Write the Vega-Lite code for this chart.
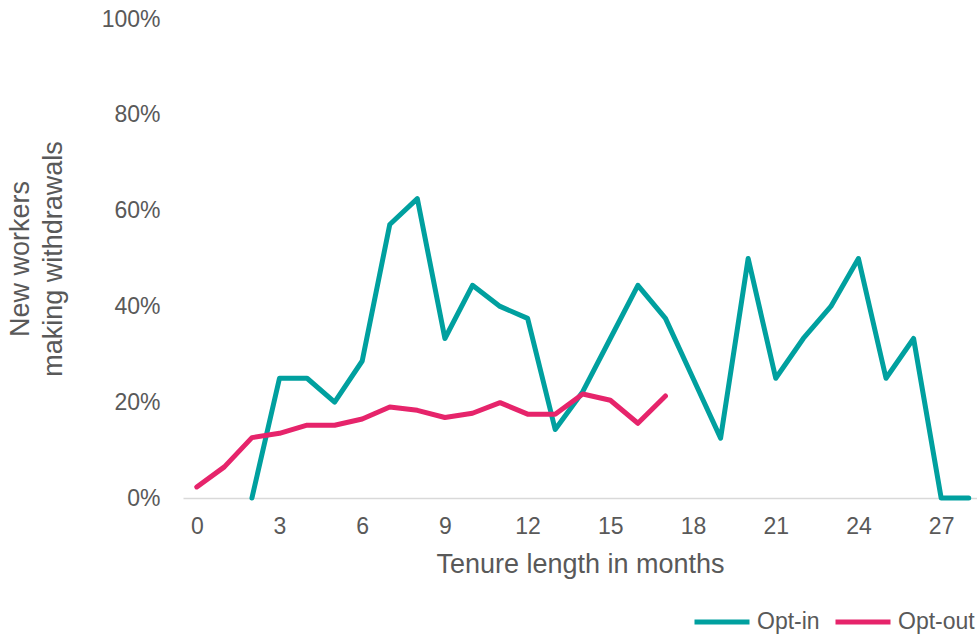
{
  "$schema": "https://vega.github.io/schema/vega-lite/v6.json",
  "width": 794,
  "height": 479,
  "autosize": {"type": "none"},
  "padding": {"left": 183, "top": 19, "right": 0, "bottom": 138},
  "background": "white",
  "config": {
    "view": {"stroke": null},
    "font": "Liberation Sans",
    "axis": {"labelColor": "#595959", "titleColor": "#595959", "labelFont": "Liberation Sans", "titleFont": "Liberation Sans", "titleFontWeight": "normal"},
    "legend": {"labelColor": "#595959", "labelFont": "Liberation Sans"}
  },
  "data": {
    "values": [
      {"month": 2, "scheme": "Opt-in", "pct": 0},
      {"month": 3, "scheme": "Opt-in", "pct": 25},
      {"month": 4, "scheme": "Opt-in", "pct": 25},
      {"month": 5, "scheme": "Opt-in", "pct": 20},
      {"month": 6, "scheme": "Opt-in", "pct": 28.6},
      {"month": 7, "scheme": "Opt-in", "pct": 57.1},
      {"month": 8, "scheme": "Opt-in", "pct": 62.5},
      {"month": 9, "scheme": "Opt-in", "pct": 33.3},
      {"month": 10, "scheme": "Opt-in", "pct": 44.4},
      {"month": 11, "scheme": "Opt-in", "pct": 40},
      {"month": 12, "scheme": "Opt-in", "pct": 37.5},
      {"month": 13, "scheme": "Opt-in", "pct": 14.3},
      {"month": 14, "scheme": "Opt-in", "pct": 22.2},
      {"month": 15, "scheme": "Opt-in", "pct": 33.3},
      {"month": 16, "scheme": "Opt-in", "pct": 44.4},
      {"month": 17, "scheme": "Opt-in", "pct": 37.5},
      {"month": 18, "scheme": "Opt-in", "pct": 25},
      {"month": 19, "scheme": "Opt-in", "pct": 12.5},
      {"month": 20, "scheme": "Opt-in", "pct": 50},
      {"month": 21, "scheme": "Opt-in", "pct": 25},
      {"month": 22, "scheme": "Opt-in", "pct": 33.3},
      {"month": 23, "scheme": "Opt-in", "pct": 40},
      {"month": 24, "scheme": "Opt-in", "pct": 50},
      {"month": 25, "scheme": "Opt-in", "pct": 25},
      {"month": 26, "scheme": "Opt-in", "pct": 33.3},
      {"month": 27, "scheme": "Opt-in", "pct": 0},
      {"month": 28, "scheme": "Opt-in", "pct": 0},
      {"month": 0, "scheme": "Opt-out", "pct": 2.3},
      {"month": 1, "scheme": "Opt-out", "pct": 6.5},
      {"month": 2, "scheme": "Opt-out", "pct": 12.6},
      {"month": 3, "scheme": "Opt-out", "pct": 13.5},
      {"month": 4, "scheme": "Opt-out", "pct": 15.2},
      {"month": 5, "scheme": "Opt-out", "pct": 15.2},
      {"month": 6, "scheme": "Opt-out", "pct": 16.5},
      {"month": 7, "scheme": "Opt-out", "pct": 19},
      {"month": 8, "scheme": "Opt-out", "pct": 18.3},
      {"month": 9, "scheme": "Opt-out", "pct": 16.8},
      {"month": 10, "scheme": "Opt-out", "pct": 17.7},
      {"month": 11, "scheme": "Opt-out", "pct": 19.9},
      {"month": 12, "scheme": "Opt-out", "pct": 17.5},
      {"month": 13, "scheme": "Opt-out", "pct": 17.5},
      {"month": 14, "scheme": "Opt-out", "pct": 21.7},
      {"month": 15, "scheme": "Opt-out", "pct": 20.4},
      {"month": 16, "scheme": "Opt-out", "pct": 15.6},
      {"month": 17, "scheme": "Opt-out", "pct": 21.3}
    ]
  },
  "mark": {"type": "line", "strokeWidth": 5, "strokeCap": "round", "strokeJoin": "round"},
  "encoding": {
    "x": {
      "field": "month",
      "type": "quantitative",
      "scale": {"domain": [-0.5, 28.3], "nice": false, "zero": false},
      "axis": {
        "title": "Tenure length in months",
        "values": [0, 3, 6, 9, 12, 15, 18, 21, 24, 27],
        "grid": false,
        "ticks": false,
        "tickSize": 0,
        "domainColor": "#D9D9D9",
        "domainWidth": 1.5,
        "labelFontSize": 23,
        "labelPadding": 17,
        "labelFlush": false,
        "titleFontSize": 27,
        "titlePadding": 13
      }
    },
    "y": {
      "field": "pct",
      "type": "quantitative",
      "scale": {"domain": [0, 100], "nice": false},
      "axis": {
        "title": ["New workers", "making withdrawals"],
        "values": [0, 20, 40, 60, 80, 100],
        "labelExpr": "datum.value + '%'",
        "grid": false,
        "ticks": false,
        "tickSize": 0,
        "domain": false,
        "labelFontSize": 23,
        "labelPadding": 23,
        "titleFontSize": 27,
        "titleLineHeight": 33,
        "titlePadding": 34
      }
    },
    "color": {
      "field": "scheme",
      "type": "nominal",
      "scale": {"domain": ["Opt-in", "Opt-out"], "range": ["#00A09F", "#E6246B"]},
      "legend": {
        "title": null,
        "orient": "none",
        "direction": "horizontal",
        "legendX": 509,
        "legendY": 573,
        "padding": 0,
        "gridAlign": "none",
        "symbolType": "stroke",
        "symbolSize": 3025,
        "symbolStrokeWidth": 5,
        "labelFontSize": 23,
        "labelOffset": 5,
        "columnPadding": 5
      }
    }
  }
}
